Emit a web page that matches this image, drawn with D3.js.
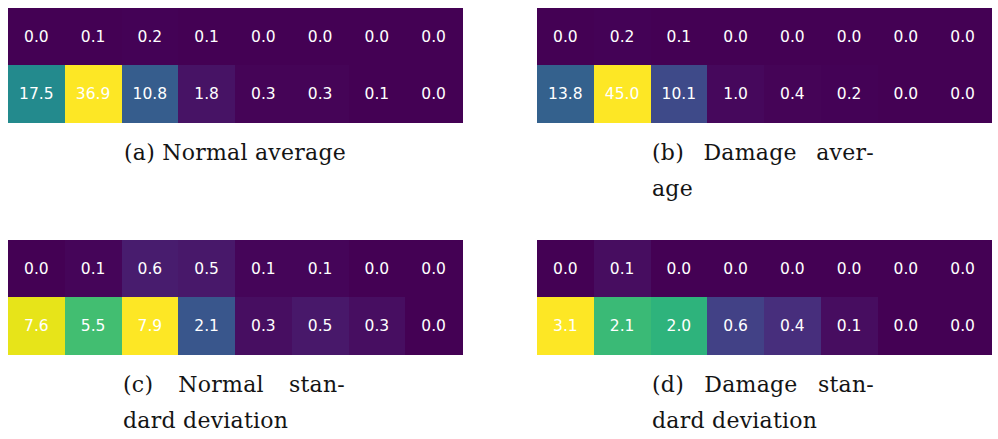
<!DOCTYPE html>
<html>
<head>
<meta charset="utf-8">
<script src="https://cdn.jsdelivr.net/npm/d3@7"></script>
<style>
  html, body { margin: 0; padding: 0; background: #ffffff; }
  svg { display: block; }
</style>
</head>
<body>
<svg id="fig" width="998" height="439"></svg>
<script>
// Column bins (8 per heatmap) and the two rows of each matrix
const columns = [0, 1, 2, 3, 4, 5, 6, 7];
const rows = [0, 1];

// Cell values, one array per row
const normalAvgTop    = [0.0, 0.1, 0.2, 0.1, 0.0, 0.0, 0.0, 0.0];
const normalAvgBottom = [17.5, 36.9, 10.8, 1.8, 0.3, 0.3, 0.1, 0.0];
const damageAvgTop    = [0.0, 0.2, 0.1, 0.0, 0.0, 0.0, 0.0, 0.0];
const damageAvgBottom = [13.8, 45.0, 10.1, 1.0, 0.4, 0.2, 0.0, 0.0];
const normalStdTop    = [0.0, 0.1, 0.6, 0.5, 0.1, 0.1, 0.0, 0.0];
const normalStdBottom = [7.6, 5.5, 7.9, 2.1, 0.3, 0.5, 0.3, 0.0];
const damageStdTop    = [0.0, 0.1, 0.0, 0.0, 0.0, 0.0, 0.0, 0.0];
const damageStdBottom = [3.1, 2.1, 2.0, 0.6, 0.4, 0.1, 0.0, 0.0];

// Sub-figure captions: first line is justified word by word, second line flush left
const captionA = [["(a) Normal average"]];
const captionB = [["(b)", "Damage", "aver-"], ["age"]];
const captionC = [["(c)", "Normal", "stan-"], ["dard deviation"]];
const captionD = [["(d)", "Damage", "stan-"], ["dard deviation"]];

const panels = [
  { values: [normalAvgTop, normalAvgBottom], caption: captionA, x0: 8,   y0: 8   },
  { values: [damageAvgTop, damageAvgBottom], caption: captionB, x0: 537, y0: 8   },
  { values: [normalStdTop, normalStdBottom], caption: captionC, x0: 8,   y0: 240 },
  { values: [damageStdTop, damageStdBottom], caption: captionD, x0: 537, y0: 240 }
];

const panelW = 454, panelH = 114;
const svg = d3.select("#fig");

panels.forEach(p => {
  const g = svg.append("g").attr("transform", `translate(${p.x0},${p.y0})`);

  const x = d3.scaleBand().domain(columns).range([0, panelW]);
  const y = d3.scaleBand().domain(rows).range([0, panelH]);
  const vmax = d3.max(p.values.flat());
  const color = d3.scaleSequential(d3.interpolateViridis).domain([0, vmax]);

  const cells = [];
  rows.forEach(r => columns.forEach(c => cells.push({ r, c, v: p.values[r][c] })));

  g.selectAll("rect.cell").data(cells).join("rect")
    .attr("class", "cell")
    .attr("x", d => x(d.c))
    .attr("y", d => y(d.r))
    .attr("width", x.bandwidth() + 0.6)
    .attr("height", y.bandwidth() + 0.6)
    .attr("shape-rendering", "crispEdges")
    .attr("fill", d => color(d.v));

  g.selectAll("text.val").data(cells).join("text")
    .attr("class", "val")
    .attr("x", d => x(d.c) + x.bandwidth() / 2)
    .attr("y", d => y(d.r) + y.bandwidth() / 2)
    .attr("text-anchor", "middle")
    .attr("dominant-baseline", "central")
    .attr("font-family", "DejaVu Sans, sans-serif")
    .attr("font-size", 15.5)
    .attr("fill", "#ffffff")
    .text(d => d.v.toFixed(1));

  // Caption block under the heatmap
  const center = panelW / 2;
  const boxL = center - 112, boxR = center + 110;
  const cap = g.append("g").attr("transform", `translate(0,${panelH + 38})`);
  const lineGap = 36;
  const font = { family: "DejaVu Serif, serif", size: 22, spacing: 0.25 };

  p.caption.forEach((words, i) => {
    const yy = i * lineGap;
    const styl = sel => sel
      .attr("font-family", font.family)
      .attr("font-size", font.size)
      .attr("letter-spacing", font.spacing)
      .attr("fill", "#141414");
    if (p.caption.length === 1) {
      cap.append("text").call(styl)
        .attr("x", center).attr("y", yy)
        .attr("text-anchor", "middle")
        .text(words[0]);
    } else if (words.length === 1) {
      cap.append("text").call(styl)
        .attr("x", boxL).attr("y", yy)
        .attr("text-anchor", "start")
        .text(words[0]);
    } else {
      // justify: measure words, spread remaining space evenly between them
      const nodes = words.map(w => cap.append("text").call(styl).attr("y", yy).text(w));
      const widths = nodes.map(n => n.node().getComputedTextLength());
      const gap = (boxR - boxL - d3.sum(widths)) / (words.length - 1);
      let cx = boxL;
      nodes.forEach((n, k) => {
        n.attr("x", cx);
        cx += widths[k] + gap;
      });
    }
  });
});
</script>
</body>
</html>
